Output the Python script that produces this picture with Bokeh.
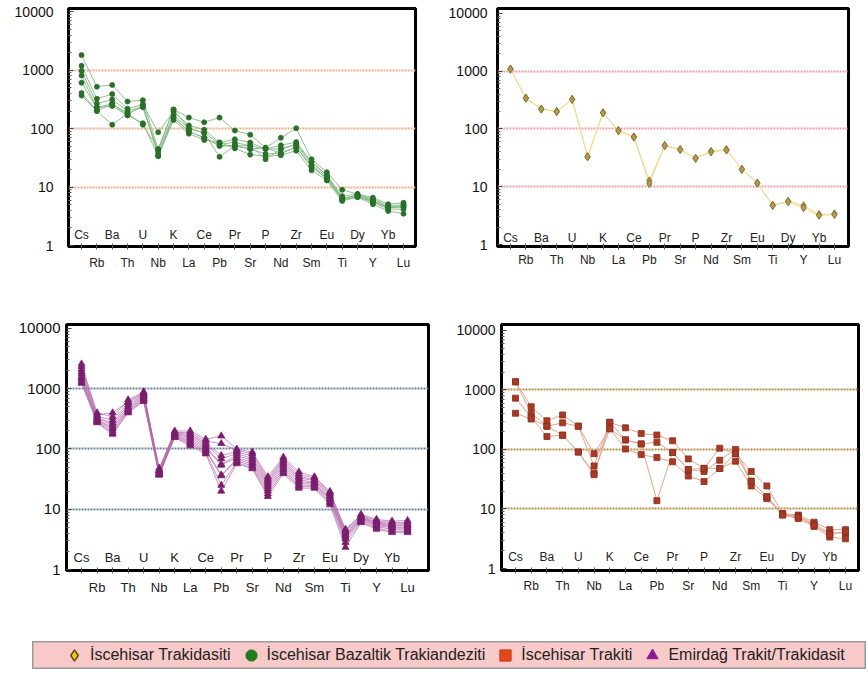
from bokeh.plotting import figure
from bokeh.models import Range1d, FixedTicker, Legend, LegendItem, Spacer, NumeralTickFormatter
from bokeh.layouts import column, row
from bokeh.core.properties import value
from bokeh.embed import file_html
from bokeh.resources import INLINE

ELEMENTS = ["Cs", "Rb", "Ba", "Th", "U", "Nb", "K", "La", "Ce", "Pb", "Pr",
            "Sr", "P", "Nd", "Zr", "Sm", "Eu", "Ti", "Dy", "Y", "Yb", "Lu"]
Y_TICKS = [1, 10, 100, 1000, 10000]
GRID_TICKS = [10, 100, 1000]

# Top-left: İscehisar Bazaltik Trakiandeziti (green circles)
bazalt_1 = [1820, 523, 562, 292, 308, 44, 213, 155, 129, 155, 93, 79, 47, 70, 102, 30, 18, 9.0, 7.6, 6.6, 5.1, 5.4]
bazalt_2 = [1200, 325, 392, 220, 260, 87, 195, 114, 96, 58, 66, 58, 45, 52, 59, 27, 16, 7.0, 7.6, 6.2, 4.8, 5.0]
bazalt_3 = [980, 268, 316, 202, 235, 41, 170, 100, 85, 55, 58, 51, 45, 45, 54, 24, 15, 6.5, 7.2, 5.8, 4.5, 4.8]
bazalt_4 = [815, 230, 268, 182, 235, 37, 155, 90, 70, 51, 51, 45, 37, 38, 48, 22, 14, 6.3, 6.9, 5.5, 4.4, 4.6]
bazalt_5 = [613, 230, 245, 170, 124, 34, 141, 82, 64, 58, 46, 36, 34, 35, 42, 19.4, 13, 5.8, 6.7, 5.1, 3.9, 3.5]
bazalt_6 = [409, 202, 117, 182, 117, 45, 213, 100, 85, 33, 51, 51, 30, 45, 54, 27, 16, 6.3, 7.2, 6.0, 4.5, 4.6]
bazalt_7 = [369, 202, 268, 170, 260, 34, 155, 90, 70, 51, 51, 45, 47, 38, 48, 23, 14, 6.0, 6.9, 5.6, 4.2, 4.2]

# Top-right: İscehisar Trakidasiti (yellow diamonds)
trakidasit_1 = [1095, 344, 222, 201, 327, 33, 191, 94, 73, 12.7, 52, 44, 31, 41, 44, 20, 11.6, 4.8, 5.6, 4.7, 3.3, 3.4]
trakidasit_2 = [1080, 340, 220, 199, 322, 33, 190, 93, 72, 11.3, 51, 44, 31, 40, 43, 20, 11.5, 4.7, 5.5, 4.3, 3.2, 3.3]

# Bottom-left: Emirdağ Trakit/Trakidasit (purple triangles)
emirdag_1 = [2580, 398, 340, 655, 890, 45, 199, 199, 145, 165, 100, 89, 34.6, 73, 41.6, 34.6, 19.7, 4.4, 8.2, 6.8, 6.36, 6.5]
emirdag_2 = [2350, 370, 398, 610, 860, 48, 190, 185, 135, 123, 95, 83, 32, 68, 38, 33, 19, 4.66, 7.9, 6.5, 6.0, 6.1]
emirdag_3 = [2100, 350, 300, 580, 830, 44, 185, 175, 125, 78, 90, 76, 30, 64, 35, 31, 18, 4.2, 7.6, 6.2, 5.7, 5.8]
emirdag_4 = [1900, 330, 270, 540, 800, 43, 180, 165, 118, 69, 84, 70, 28, 60, 33, 30, 17, 4.0, 7.4, 6.0, 5.5, 5.5]
emirdag_5 = [1750, 320, 250, 500, 770, 42, 175, 155, 110, 56, 78, 65, 26, 56, 31, 28, 16, 3.8, 7.2, 5.8, 5.3, 5.3]
emirdag_6 = [1600, 305, 230, 470, 740, 40, 170, 145, 105, 54, 72, 60, 24, 52, 29, 27, 15, 3.6, 7.0, 5.6, 5.1, 5.0]
emirdag_7 = [1500, 300, 215, 450, 700, 39, 165, 135, 98, 37, 68, 56, 22, 48, 27, 26, 14.5, 3.4, 6.8, 5.4, 4.9, 4.8]
emirdag_8 = [1400, 290, 200, 430, 680, 38, 162, 128, 93, 36, 64, 52, 20, 45, 25, 25, 13.5, 3.2, 6.5, 5.2, 4.6, 4.5]
emirdag_9 = [1300, 280, 185, 410, 650, 37, 158, 120, 88, 25, 60, 49, 18, 42, 24, 23.5, 12.8, 2.8, 6.2, 4.9, 4.3, 4.3]
emirdag_10 = [1230, 273, 176, 398, 615, 37, 155, 113, 83, 20, 57, 47, 16.3, 39, 22.4, 22.4, 11.9, 2.34, 6.0, 4.66, 4.1, 4.1]

# Bottom-right: İscehisar Trakiti (red squares)
trakit_1 = [1370, 522, 304, 380, 246, 52.8, 286, 231, 185, 175, 140, 69.5, 48, 105, 85, 42.7, 24.4, 8.4, 7.9, 6.0, 4.5, 4.5]
trakit_2 = [1370, 406, 246, 280, 246, 85, 223, 145, 124, 132, 89, 46, 42.7, 66, 100, 29.4, 16, 8.2, 7.5, 5.6, 3.96, 3.96]
trakit_3 = [729, 350, 165, 174, 90.6, 40, 223, 102, 82, 73, 62, 35.8, 29, 48, 63.5, 24.4, 14.9, 7.9, 6.9, 5.1, 3.37, 3.16]
trakit_4 = [406, 325, 246, 174, 90.6, 37.7, 286, 145, 124, 13.8, 89, 46, 48.3, 48, 85, 29, 16.1, 8.0, 7.3, 5.3, 3.7, 4.2]

LEGEND_LABELS = ["İscehisar Trakidasiti", "İscehisar Bazaltik Trakiandeziti",
                 "İscehisar Trakiti", "Emirdağ Trakit/Trakidasit"]

FONT = "Liberation Sans"
MINOR = [m * 10 ** e for e in range(4) for m in range(2, 10)]


def panel(samples, width, height, borders, x_rng, y_rng, grid_color, line_color,
          line_alpha, marker, m_size, m_fill, m_line, num_font, el_font,
          y_standoff, x_standoff, up_offset):
    left, right, top, bottom = borders
    p = figure(width=width, height=height, x_range=Range1d(*x_rng),
               y_range=Range1d(*y_rng), y_axis_type="log",
               output_backend="svg", toolbar_location=None,
               min_border_left=left, min_border_right=right,
               min_border_top=top, min_border_bottom=bottom)
    p.outline_line_color = "black"
    p.outline_line_width = 3
    p.outline_line_alpha = 1
    xs = list(range(len(ELEMENTS)))
    for s in samples:
        p.line(xs, s, line_color=line_color, line_width=1, line_alpha=line_alpha)
    for s in samples:
        p.scatter(xs, s, marker=marker, size=m_size, fill_color=m_fill,
                  line_color=m_line, line_width=0.8)
    upper_x = xs[::2]
    p.text(x=upper_x, y=[1] * len(upper_x), text=ELEMENTS[::2],
           y_offset=up_offset, text_align="center", text_baseline="middle",
           text_font=value(FONT), text_font_size=el_font, text_color="#222222")
    # y axis
    ya = p.yaxis[0]
    ya.ticker = FixedTicker(ticks=Y_TICKS, minor_ticks=MINOR)
    ya.formatter = NumeralTickFormatter(format="0")
    ya.major_label_text_font = FONT
    ya.major_label_text_font_size = num_font
    ya.major_label_text_color = "#111111"
    ya.major_tick_in = 5
    ya.major_tick_out = 0
    ya.minor_tick_in = 3
    ya.minor_tick_out = 0
    ya.major_tick_line_color = "#444444"
    ya.minor_tick_line_color = "#666666"
    ya.axis_line_color = "black"
    ya.major_label_standoff = y_standoff
    # x axis
    xa = p.xaxis[0]
    xa.ticker = FixedTicker(ticks=xs, minor_ticks=[])
    xa.major_label_overrides = {i: (ELEMENTS[i] if i % 2 == 1 else "") for i in xs}
    xa.major_label_text_font = FONT
    xa.major_label_text_font_size = el_font
    xa.major_label_text_color = "#222222"
    xa.major_tick_in = 3
    xa.major_tick_out = 3
    xa.major_tick_line_color = "#555555"
    xa.axis_line_color = "black"
    xa.major_label_standoff = x_standoff
    # grids
    p.xgrid.visible = False
    p.ygrid.ticker = FixedTicker(ticks=GRID_TICKS)
    p.ygrid.grid_line_color = grid_color
    p.ygrid.grid_line_width = 2
    p.ygrid.grid_line_dash = "2 1"
    return p


p1 = panel([bazalt_1, bazalt_2, bazalt_3, bazalt_4, bazalt_5, bazalt_6, bazalt_7],
           432, 310, (68, 17, 5, 64), (-0.85, 21.78), (0.962, 11440),
           "#eab08e", "#86b886", 0.9, "circle", 5, "#2a6f2a", "#2a6f2a",
           "14px", "12px", 15, 6, -11)
p2 = panel([trakidasit_1, trakidasit_2],
           434, 310, (65, 18, 8, 58), (-0.84, 21.91), (0.925, 12150),
           "#eaa2aa", "#f3d98a", 1.0, "diamond", 8, "#b39a4e", "#7d6a2e",
           "14px", "12px", 10, 3, -7)
p3 = panel([emirdag_1, emirdag_2, emirdag_3, emirdag_4, emirdag_5, emirdag_6,
            emirdag_7, emirdag_8, emirdag_9, emirdag_10],
           432, 290, (66, 4, 13, 30), (-0.97, 22.35), (0.963, 11640),
           "#6d8299", "#b26aaa", 0.7, "triangle", 7, "#7a1f6e", "#7a1f6e",
           "15px", "13px", 6, 6, -12)
p4 = panel([trakit_1, trakit_2, trakit_3, trakit_4],
           434, 290, (69, 8, 14, 28), (-0.89, 21.83), (0.926, 12590),
           "#b48f4c", "#e3a590", 1.0, "square", 6, "#a83a25", "#8a2e1e",
           "14px", "12px", 6, 5, -12)

# Legend strip (glyph renderers only feed the legend; their point lies outside the view)
leg = figure(width=834, height=28, x_range=Range1d(0, 1), y_range=Range1d(0, 1),
             output_backend="svg", toolbar_location=None,
             x_axis_location=None, y_axis_location=None,
             min_border_left=0, min_border_right=0, min_border_top=0, min_border_bottom=0)
leg.grid.visible = False
leg.background_fill_color = "#f8c9c9"
leg.border_fill_color = "#f8c9c9"
leg.outline_line_color = "#9a9a9a"
leg.outline_line_width = 2
HIDDEN = [-5]
r_a = leg.scatter(x=HIDDEN, y=HIDDEN, marker="diamond", fill_color="#f4c41c", line_color="#5c4c10", line_width=1.5)
r_b = leg.scatter(x=HIDDEN, y=HIDDEN, marker="circle", fill_color="#1d7a1d", line_color="#1d7a1d")
r_c = leg.scatter(x=HIDDEN, y=HIDDEN, marker="square", fill_color="#e2481c", line_color="#c83c14")
r_d = leg.scatter(x=HIDDEN, y=HIDDEN, marker="triangle", fill_color="#8c1a8c", line_color="#8c1a8c")
legend = Legend(items=[LegendItem(label=LEGEND_LABELS[0], renderers=[r_a]),
                       LegendItem(label=LEGEND_LABELS[1], renderers=[r_b]),
                       LegendItem(label=LEGEND_LABELS[2], renderers=[r_c]),
                       LegendItem(label=LEGEND_LABELS[3], renderers=[r_d])],
                orientation="horizontal", location=(28, 0),
                glyph_width=28, glyph_height=28, label_standoff=2, spacing=6,
                padding=0, margin=0, background_fill_alpha=0, border_line_alpha=0,
                label_text_font=FONT, label_text_font_size="16px",
                label_text_color="#222222", label_height=28)
leg.add_layout(legend)

layout = column(row(p1, p2), row(p3, p4), Spacer(width=10, height=41),
                row(Spacer(width=32, height=28), leg))

open("out.html", "w").write(file_html(layout, INLINE))
